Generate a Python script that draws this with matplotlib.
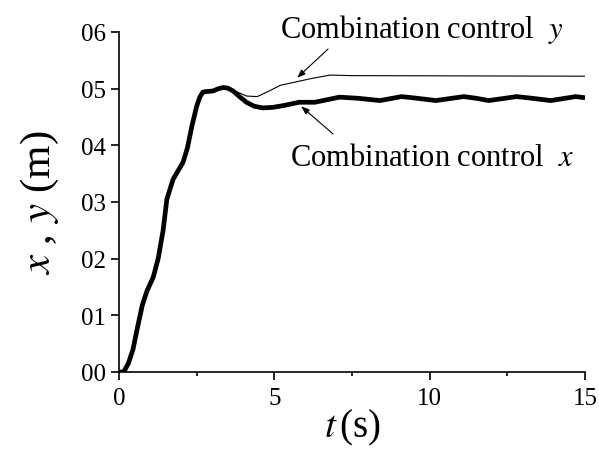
import matplotlib.pyplot as plt
from matplotlib.ticker import MultipleLocator

## Données

t_x = [0.0, 0.15, 0.3, 0.45, 0.6, 0.75, 0.9, 1.1, 1.26, 1.42, 1.54, 1.74, 1.9, 2.06, 2.2,
       2.35, 2.5, 2.6, 2.7, 2.85, 3.03, 3.2, 3.35, 3.5, 3.67, 3.9, 4.1, 4.35, 4.63, 4.95,
       5.28, 5.8, 6.3, 7.1, 7.7, 8.4, 9.1, 9.6, 10.2, 11.1, 11.5, 11.9, 12.8, 13.3, 13.9,
       14.7, 15.0]
x_val = [0.0, 0.0, 0.015, 0.04, 0.08, 0.118, 0.143, 0.167, 0.2, 0.25, 0.305, 0.34, 0.355,
         0.37, 0.395, 0.435, 0.469, 0.485, 0.494, 0.495, 0.496, 0.5, 0.502, 0.501, 0.496,
         0.485, 0.476, 0.469, 0.466, 0.467, 0.47, 0.476, 0.476, 0.485, 0.483, 0.479, 0.486,
         0.483, 0.479, 0.486, 0.483, 0.479, 0.486, 0.483, 0.479, 0.486, 0.484]

t_y = [3.67, 3.9, 4.1, 4.45, 4.8, 5.2, 5.7, 6.2, 6.8, 7.5, 15.0]
y_val = [0.497, 0.492, 0.487, 0.486, 0.495, 0.506, 0.512, 0.518, 0.524, 0.523, 0.522]

xticks = [0, 5, 10, 15]
yticks = [0.0, 0.1, 0.2, 0.3, 0.4, 0.5, 0.6]
ylabels = ["00", "01", "02", "03", "04", "05", "06"]

## Tracé

plt.rcParams["font.family"] = ["Liberation Serif", "DejaVu Serif"]
plt.rcParams["mathtext.fontset"] = "stix"

fig = plt.figure(figsize=(5.99, 4.52), dpi=100)
ax = fig.add_axes([0.1987, 0.1748, 0.7779, 0.7522])

# y suit x jusqu'à t ~ 3.7 s
ty_full = [t for t in t_x if t < t_y[0]] + t_y
yv_full = [v for t, v in zip(t_x, x_val) if t < t_y[0]] + y_val

ax.plot(ty_full, yv_full, color="black", lw=0.8)
ax.plot(t_x, x_val, color="black", lw=3.4, solid_capstyle="butt")

ax.set_xlim(0, 15)
ax.set_ylim(0, 0.6)
ax.set_xticks(xticks)
ax.xaxis.set_minor_locator(MultipleLocator(2.5))
ax.set_yticks(yticks)
ax.set_yticklabels(ylabels)

for s in ["top", "right"]:
    ax.spines[s].set_visible(False)
ax.spines["left"].set_linewidth(1.2)
ax.spines["bottom"].set_linewidth(1.2)
ax.tick_params(axis="both", which="major", labelsize=18, length=6, width=1.2, direction="out")
ax.tick_params(axis="x", which="minor", length=3, width=1.2, direction="out")
ax.tick_params(axis="x", pad=5)

ax.set_xlabel(r"$t\,$(s)", fontsize=28, labelpad=-2)
ax.set_ylabel(r"$x$ , $y$ (m)", fontsize=31, labelpad=14)

# textes et flèches
ax.text(9.75, 0.607, r"Combination control  $y$", fontsize=22, ha="center", va="center")
ax.text(10.07, 0.379, r"Combination control  $x$", fontsize=22, ha="center", va="center")

arrow = dict(arrowstyle="-|>,head_length=0.5,head_width=0.18", color="black", lw=0.8,
             shrinkA=0, shrinkB=0)
ax.annotate("", xy=(5.73, 0.519), xytext=(6.73, 0.570), arrowprops=arrow)
ax.annotate("", xy=(5.86, 0.469), xytext=(6.89, 0.420), arrowprops=arrow)

fig.savefig("out.png", dpi=100)
